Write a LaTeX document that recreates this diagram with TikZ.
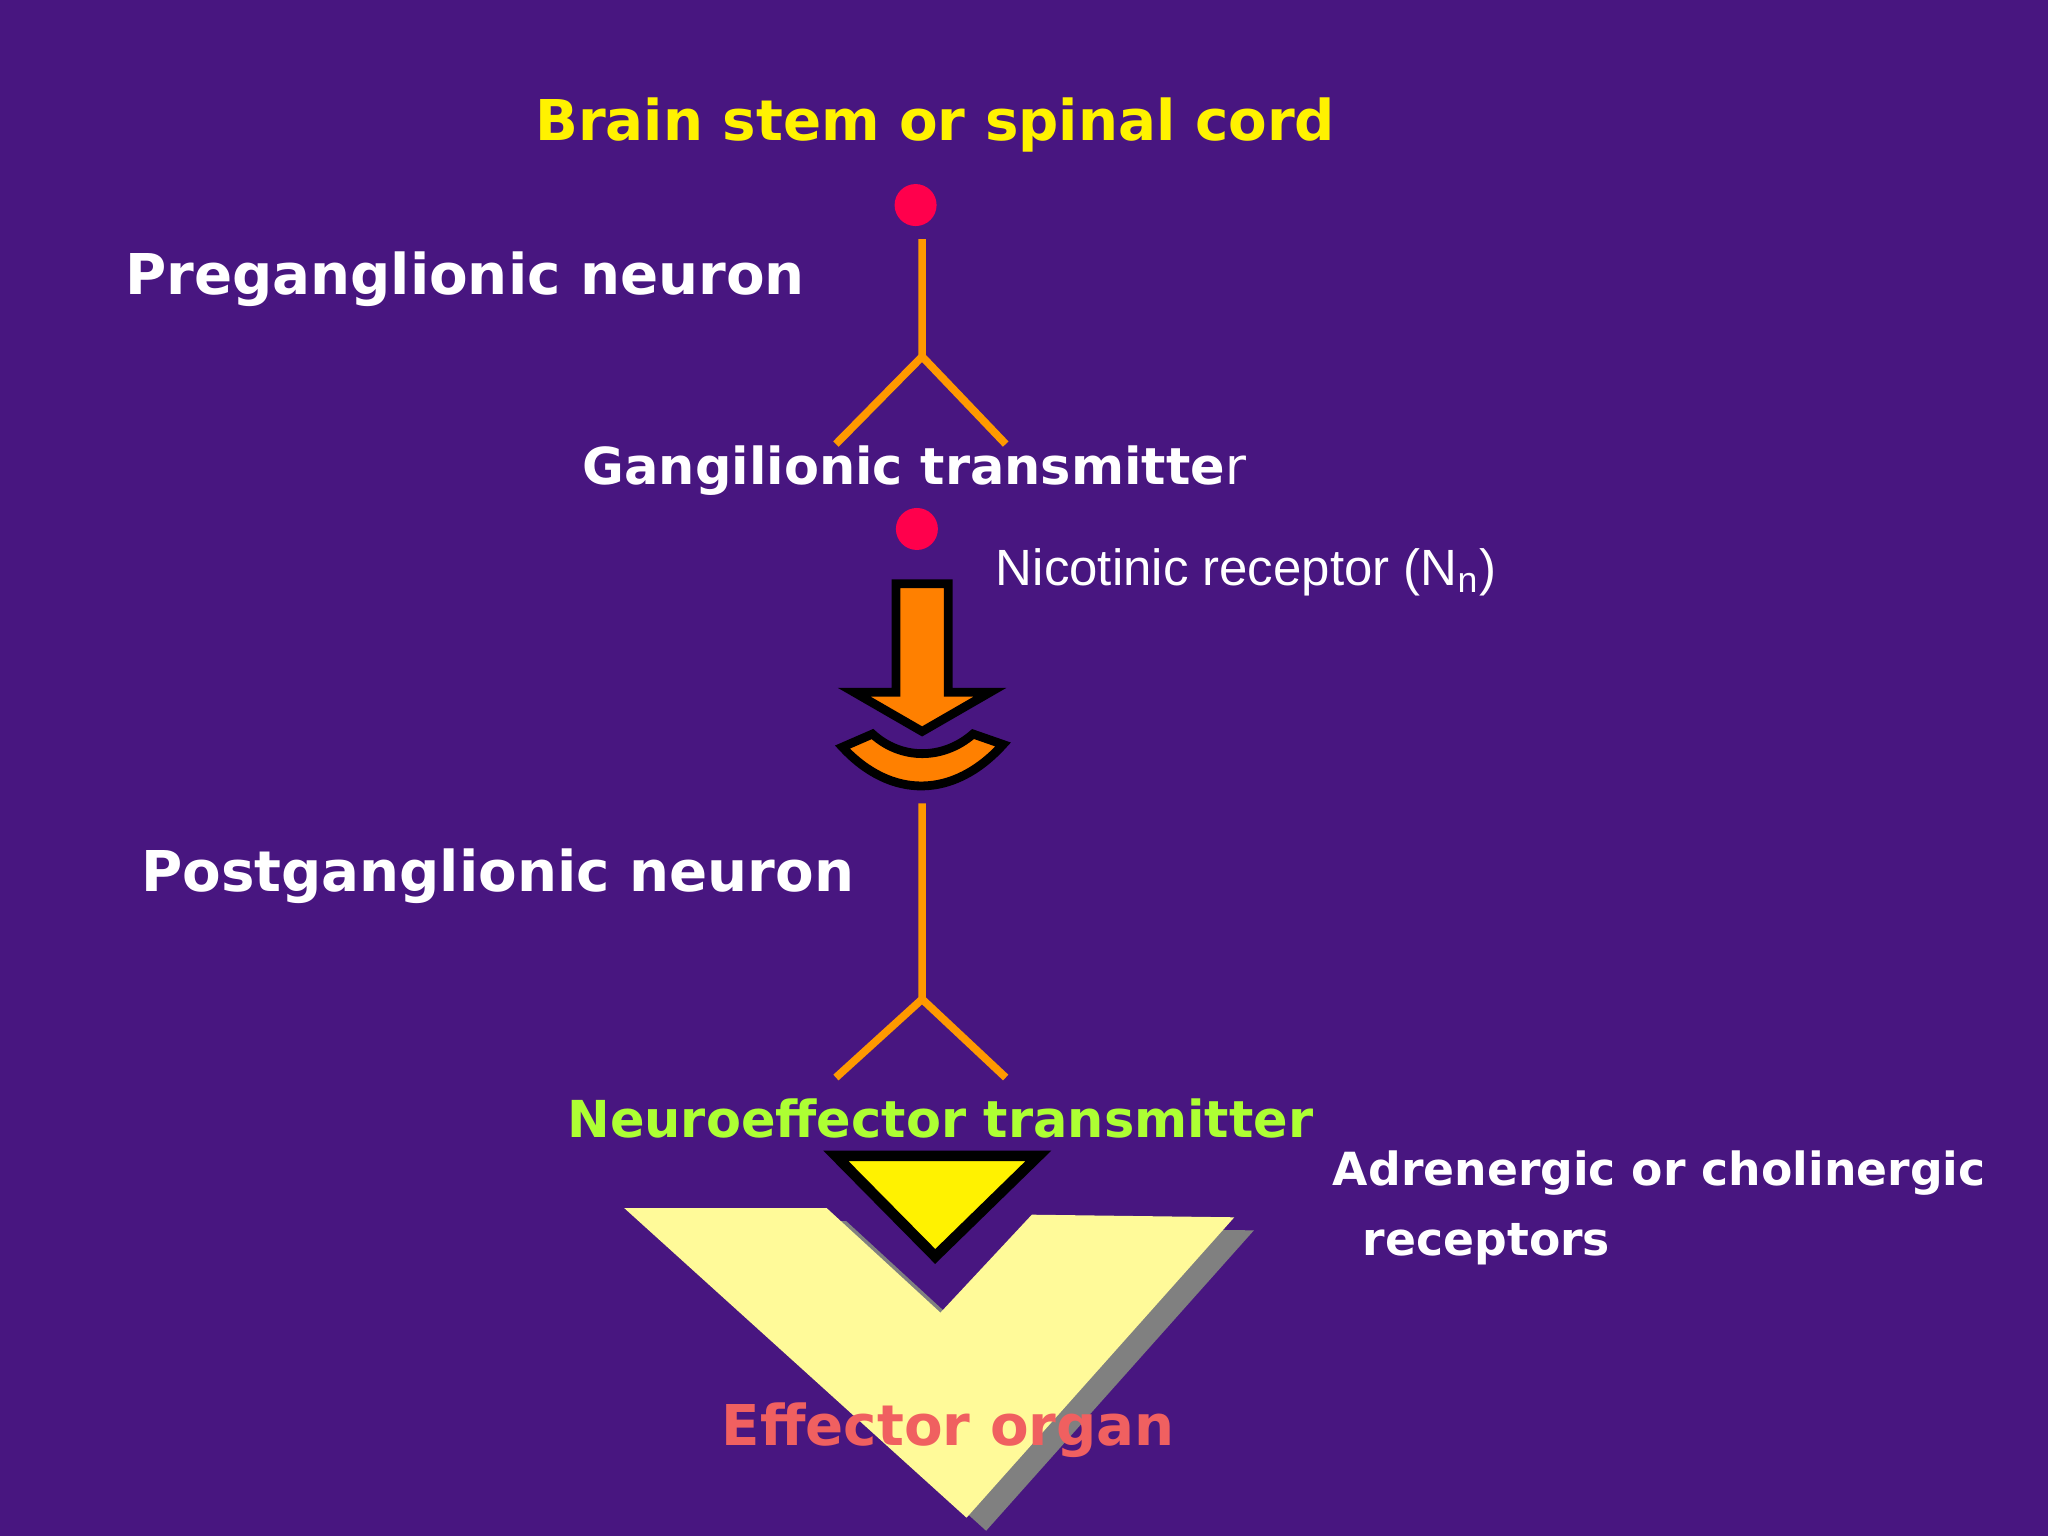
\documentclass[tikz,border=0pt]{standalone}
\usepackage{fontspec}
\setmainfont{DejaVu Sans}
\newfontfamily\arialf{Liberation Sans}
\begin{document}
\begin{tikzpicture}[x=0.01306cm,y=-0.01306cm,
  lbl/.style={font=\bfseries\fontsize{16}{19}\selectfont,text=white,inner sep=0},
  nerve/.style={draw=orange!80!yellow,line width=2.2pt},
  dot/.style={circle,fill=red!70!magenta,minimum size=0.42cm,inner sep=0}]
\definecolor{bg}{RGB}{72,22,128}
\fill[bg] (0,0) rectangle (1568,1176);
\useasboundingbox (0,0) rectangle (1568,1176);
\node[lbl,text=yellow] (brain) at (716,96) {Brain stem or spinal cord};
\node[dot] (d1) at (701,157) {};
\coordinate (a1) at (706,183); \coordinate (b1) at (706,273);
\coordinate (l1) at (640,340); \coordinate (r1) at (770,340);
\draw[nerve] (a1)--(b1)--(l1); \draw[nerve] (b1)--(r1);
\node[lbl] (pre) at (356,214) {Preganglionic neuron};
\node[lbl,font=\bfseries\fontsize{14.5}{17}\selectfont] (gt) at (700,360) {Gangilionic transmitte\mdseries r};
\node[dot] (d2) at (702,405) {};
\node[font=\arialf\fontsize{14.5}{17}\selectfont,text=white,anchor=west,inner sep=0] (nic) at (762,438) {Nicotinic receptor (N\textsubscript{n})};
\draw[fill=orange,line width=2.5pt,line join=miter] (686,447)--(726,447)--(726,530)--(758,530)--(706,560)--(654,530)--(686,530)--cycle;
\draw[fill=orange,line width=2.5pt] (645,572) -- (668,562) .. controls (690,582) and (722,582) .. (745,562) -- (768,570) .. controls (730,612) and (682,612) .. (645,572) -- cycle;
\coordinate (a2) at (706,615); \coordinate (b2) at (706,765);
\coordinate (l2) at (640,825); \coordinate (r2) at (770,825);
\draw[nerve] (a2)--(b2)--(l2); \draw[nerve] (b2)--(r2);
\node[lbl] (post) at (381,671) {Postganglionic neuron};
\node[lbl,font=\bfseries\fontsize{14.5}{17}\selectfont,text=green!40!yellow!80!white] (ne) at (720,856) {Neuroeffector transmitter};
\fill[gray] (493,935)--(648,935)--(735,1015)--(805,940)--(960,942)--(755,1172)--cycle;
\fill[yellow!40] (478,925)--(633,925)--(720,1005)--(790,930)--(945,932)--(740,1162)--cycle;
\draw[fill=yellow,line width=3pt,line join=miter] (640,885)--(795,885)--(716,962)--cycle;
\node[lbl,text={rgb,255:red,240;green,96;blue,96}] (eo) at (726,1095) {Effector organ};
\node[lbl,font=\bfseries\fontsize{13}{16}\selectfont,anchor=west,align=left] (ad) at (1020,925) {Adrenergic or cholinergic\\[4pt]\hspace*{0.3cm}receptors};
\end{tikzpicture}
\end{document}
